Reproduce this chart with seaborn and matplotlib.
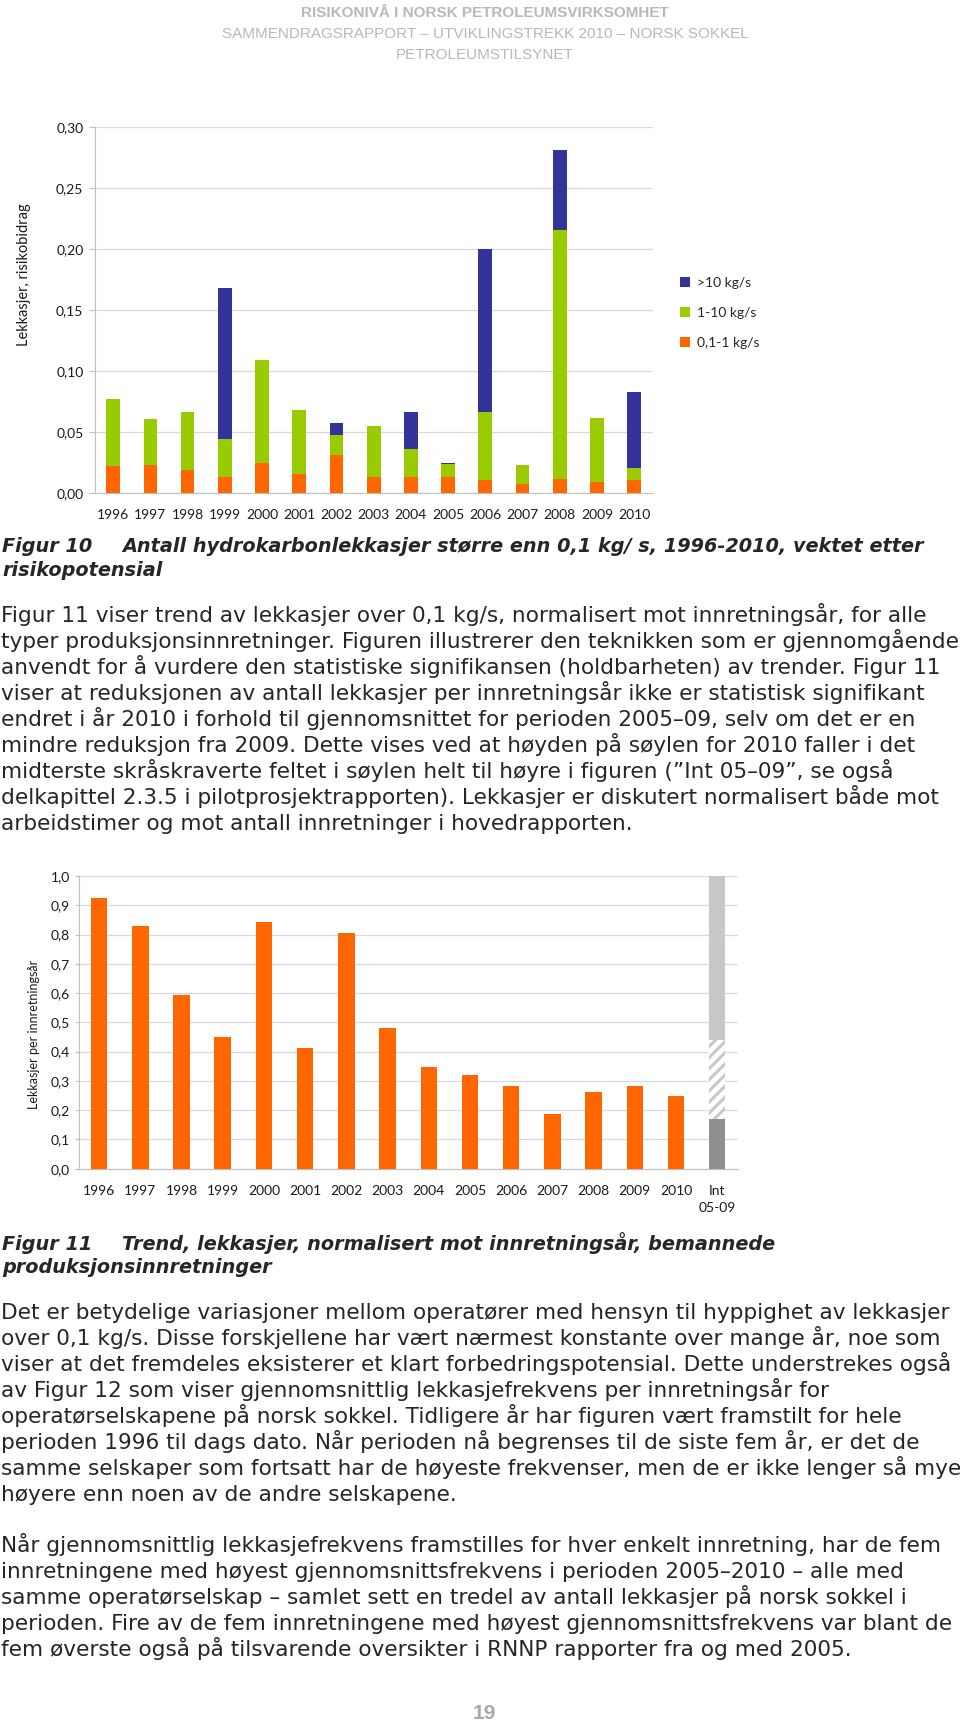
import matplotlib
matplotlib.use("Agg")
import matplotlib.pyplot as plt
import seaborn as sns
import numpy as np
from matplotlib.patches import Patch

# ---------------- data ----------------
years = ["1996", "1997", "1998", "1999", "2000", "2001", "2002", "2003",
         "2004", "2005", "2006", "2007", "2008", "2009", "2010"]
# Figure 10: risk-weighted leaks, stacked components
leak_small = [0.022, 0.023, 0.019, 0.013, 0.024, 0.015, 0.031, 0.013,
              0.013, 0.013, 0.010, 0.007, 0.011, 0.009, 0.010]        # 0,1-1 kg/s
leak_medium = [0.055, 0.037, 0.047, 0.031, 0.0845, 0.053, 0.016, 0.042,
               0.023, 0.0105, 0.056, 0.0154, 0.2043, 0.0525, 0.0105]  # 1-10 kg/s
leak_large = [0.0, 0.0, 0.0, 0.1235, 0.0, 0.0, 0.010, 0.0,
              0.030, 0.001, 0.1337, 0.0, 0.0657, 0.0, 0.0623]          # >10 kg/s
series_labels = [">10 kg/s", "1-10 kg/s", "0,1-1 kg/s"]
y1_ticks = [0.0, 0.05, 0.10, 0.15, 0.20, 0.25, 0.30]
y1_ticklabels = ["0,00", "0,05", "0,10", "0,15", "0,20", "0,25", "0,30"]

# Figure 11: leaks per installation-year
trend_values = [0.926, 0.830, 0.592, 0.450, 0.843, 0.412, 0.805, 0.479,
                0.346, 0.320, 0.284, 0.187, 0.263, 0.284, 0.249]
int_label = "Int\n05-09"
int_lower = 0.169
int_upper = 0.440
int_top = 1.0
y2_ticks = [0.0, 0.1, 0.2, 0.3, 0.4, 0.5, 0.6, 0.7, 0.8, 0.9, 1.0]
y2_ticklabels = ["0,0", "0,1", "0,2", "0,3", "0,4", "0,5", "0,6", "0,7", "0,8", "0,9", "1,0"]

header_lines = ["RISIKONIVÅ I NORSK PETROLEUMSVIRKSOMHET",
                "SAMMENDRAGSRAPPORT – UTVIKLINGSTREKK 2010 – NORSK SOKKEL",
                "PETROLEUMSTILSYNET"]
cap10_num = "Figur 10"
cap10_lines = ["Antall hydrokarbonlekkasjer større enn 0,1 kg/ s, 1996-2010, vektet etter",
               "risikopotensial"]
cap11_num = "Figur 11"
cap11_lines = ["Trend, lekkasjer, normalisert mot innretningsår, bemannede",
               "produksjonsinnretninger"]
para1 = [
    "Figur 11 viser trend av lekkasjer over 0,1 kg/s, normalisert mot innretningsår, for alle",
    "typer produksjonsinnretninger. Figuren illustrerer den teknikken som er gjennomgående",
    "anvendt for å vurdere den statistiske signifikansen (holdbarheten) av trender. Figur 11",
    "viser at reduksjonen av antall lekkasjer per innretningsår ikke er statistisk signifikant",
    "endret i år 2010 i forhold til gjennomsnittet for perioden 2005–09, selv om det er en",
    "mindre reduksjon fra 2009. Dette vises ved at høyden på søylen for 2010 faller i det",
    "midterste skråskraverte feltet i søylen helt til høyre i figuren (”Int 05–09”, se også",
    "delkapittel 2.3.5 i pilotprosjektrapporten). Lekkasjer er diskutert normalisert både mot",
    "arbeidstimer og mot antall innretninger i hovedrapporten.",
]
para2 = [
    "Det er betydelige variasjoner mellom operatører med hensyn til hyppighet av lekkasjer",
    "over 0,1 kg/s. Disse forskjellene har vært nærmest konstante over mange år, noe som",
    "viser at det fremdeles eksisterer et klart forbedringspotensial. Dette understrekes også",
    "av Figur 12 som viser gjennomsnittlig lekkasjefrekvens per innretningsår for",
    "operatørselskapene på norsk sokkel. Tidligere år har figuren vært framstilt for hele",
    "perioden 1996 til dags dato. Når perioden nå begrenses til de siste fem år, er det de",
    "samme selskaper som fortsatt har de høyeste frekvenser, men de er ikke lenger så mye",
    "høyere enn noen av de andre selskapene.",
]
para3 = [
    "Når gjennomsnittlig lekkasjefrekvens framstilles for hver enkelt innretning, har de fem",
    "innretningene med høyest gjennomsnittsfrekvens i perioden 2005–2010 – alle med",
    "samme operatørselskap – samlet sett en tredel av antall lekkasjer på norsk sokkel i",
    "perioden. Fire av de fem innretningene med høyest gjennomsnittsfrekvens var blant de",
    "fem øverste også på tilsvarende oversikter i RNNP rapporter fra og med 2005.",
]
page_number = "19"

# ---------------- style ----------------
sns.set_style("white")
plt.rcParams["font.family"] = ["DejaVu Sans"]
plt.rcParams["hatch.linewidth"] = 2.2
plt.rcParams["hatch.color"] = "#c8c8c8"

BLUE = "#333399"
GREEN = "#99cc00"
ORANGE = "#ff6600"
LIGHT = "#c8c8c8"
DARK = "#8f8f8f"
GRID = "#d9d9d9"
AXIS = "#bfbfbf"
HEAD = "#b8b8b8"
CHART_FONT = ["Lato", "DejaVu Sans"]

W, H = 960, 1726
fig = plt.figure(figsize=(W / 100, H / 100), dpi=100)
fig.patch.set_facecolor("white")


def px(x, y):
    return x / W, 1 - y / H


def style_axes(ax, ncat, yticks, yticklabels, ylim, tick_len, tick_pad, xpad):
    ax.set_xlim(-0.5, ncat - 0.5)
    ax.set_ylim(*ylim)
    ax.set_yticks(yticks)
    ax.set_yticklabels(yticklabels, fontfamily=CHART_FONT, fontsize=10, color="#1a1a1a")
    ax.set_xticks(np.arange(-0.5, ncat, 1.0), minor=True)
    ax.tick_params(axis="x", which="minor", length=5, width=0.8, color=AXIS, direction="out")
    ax.tick_params(axis="x", which="major", length=0, pad=xpad)
    ax.tick_params(axis="y", which="major", length=tick_len, width=0.8, color=AXIS,
                   pad=tick_pad, left=True, direction="out")
    for lbl in ax.get_xticklabels():
        lbl.set_fontfamily(CHART_FONT)
        lbl.set_fontsize(10)
        lbl.set_color("#1a1a1a")
    ax.grid(axis="y", color=GRID, linewidth=0.9)
    ax.grid(axis="x", visible=False)
    ax.set_axisbelow(True)
    for s in ["top", "right"]:
        ax.spines[s].set_visible(False)
    ax.spines["left"].set_color(AXIS)
    ax.spines["bottom"].set_color(AXIS)
    ax.spines["left"].set_linewidth(0.8)
    ax.spines["bottom"].set_linewidth(0.8)
    ax.set_xlabel("")
    ax.set_ylabel("")


# ---------------- Figure 10 chart ----------------
ax1_l, ax1_r, ax1_t, ax1_b = 94.6, 652.7, 126.7, 492.7
ax1 = fig.add_axes([ax1_l / W, 1 - ax1_b / H, (ax1_r - ax1_l) / W, (ax1_b - ax1_t) / H])
small = np.array(leak_small)
medium_top = small + np.array(leak_medium)
large_top = medium_top + np.array(leak_large)
for vals, col in [(large_top, BLUE), (medium_top, GREEN), (small, ORANGE)]:
    sns.barplot(x=years, y=vals, order=years, color=col, saturation=1,
                width=0.37, linewidth=0, errorbar=None, ax=ax1)
style_axes(ax1, len(years), y1_ticks, y1_ticklabels, (0, 0.30), 4, 4, 12)

handles = [Patch(facecolor=c, edgecolor="none") for c in (BLUE, GREEN, ORANGE)]
fig.legend(handles, series_labels, loc="upper left",
           bbox_to_anchor=px(680, 277), bbox_transform=fig.transFigure,
           frameon=False, borderpad=0, borderaxespad=0,
           handlelength=0.75, handleheight=0.75, handletextpad=0.5,
           labelspacing=1.3, prop={"family": CHART_FONT, "size": 10})

fig.text(*px(24.5, 275), "Lekkasjer, risikobidrag", rotation=90, ha="center", va="center",
         fontfamily=CHART_FONT, fontsize=10.5, color="#1a1a1a")

# ---------------- Figure 11 chart ----------------
cats2 = years + [int_label]
ax2_l, ax2_r, ax2_t, ax2_b = 78.5, 737.8, 876.0, 1168.7
ax2 = fig.add_axes([ax2_l / W, 1 - ax2_b / H, (ax2_r - ax2_l) / W, (ax2_b - ax2_t) / H])
sns.barplot(x=years, y=trend_values, order=cats2, color=ORANGE, saturation=1,
            width=0.40, linewidth=0, errorbar=None, ax=ax2)
sns.barplot(x=[int_label], y=[int_top], order=cats2, color=LIGHT, saturation=1,
            width=0.40, linewidth=0, errorbar=None, ax=ax2)
n_before = len(ax2.patches)
sns.barplot(x=[int_label], y=[int_upper], order=cats2, color="white", saturation=1,
            width=0.40, linewidth=0, errorbar=None, ax=ax2)
for p in ax2.patches[n_before:]:
    p.set_hatch("///")
    p.set_edgecolor(LIGHT)
    p.set_linewidth(0)
sns.barplot(x=[int_label], y=[int_lower], order=cats2, color=DARK, saturation=1,
            width=0.40, linewidth=0, errorbar=None, ax=ax2)
style_axes(ax2, len(cats2), y2_ticks, y2_ticklabels, (0, 1.0), 3, 3, 12)
for lbl in ax2.get_xticklabels():
    lbl.set_linespacing(1.45)
    lbl.set_va("top")

fig.text(*px(34, 1034), "Lekkasjer per innretningsår", rotation=90, ha="center", va="center",
         fontfamily=CHART_FONT, fontsize=9, color="#1a1a1a")

# ---------------- page text ----------------
renderer = fig.canvas.get_renderer()


def fit_size(text, target, **kw):
    t = fig.text(0, 0, text, fontsize=12, **kw)
    w = t.get_window_extent(renderer=renderer).width
    t.remove()
    return 12 * target / w


body_kw = dict(fontfamily="DejaVu Sans")
cap_kw = dict(fontfamily="DejaVu Sans", fontweight="bold", fontstyle="italic")
body_size = fit_size(para1[1], 952, **body_kw)
cap_size = fit_size(cap10_lines[0], 799, **cap_kw)
BL = 7  # centre-to-baseline offset (px)

# header
fig.text(*px(485, 12 + 5), header_lines[0], ha="center", va="baseline", fontsize=11,
         fontweight="bold", color=HEAD, fontfamily="Liberation Sans")
fig.text(*px(485, 33 + 5), header_lines[1], ha="center", va="baseline", fontsize=11,
         color=HEAD, fontfamily="Liberation Sans")
fig.text(*px(485, 54 + 5), header_lines[2], ha="center", va="baseline", fontsize=11,
         color=HEAD, fontfamily="Liberation Sans")

# caption figur 10
fig.text(*px(2, 545 + BL), cap10_num, ha="left", va="baseline", fontsize=cap_size, **cap_kw)
fig.text(*px(122, 545 + BL), cap10_lines[0], ha="left", va="baseline", fontsize=cap_size, **cap_kw)
fig.text(*px(2, 569 + BL), cap10_lines[1], ha="left", va="baseline", fontsize=cap_size, **cap_kw)

for i, line in enumerate(para1):
    fig.text(*px(1, 615 + 26 * i + BL), line, ha="left", va="baseline",
             fontsize=body_size, **body_kw)

# caption figur 11
fig.text(*px(2, 1243 + BL), cap11_num, ha="left", va="baseline", fontsize=cap_size, **cap_kw)
fig.text(*px(122, 1243 + BL), cap11_lines[0], ha="left", va="baseline", fontsize=cap_size, **cap_kw)
fig.text(*px(2, 1266 + BL), cap11_lines[1], ha="left", va="baseline", fontsize=cap_size, **cap_kw)

for i, line in enumerate(para2):
    fig.text(*px(1, 1312 + 26 * i + BL), line, ha="left", va="baseline",
             fontsize=body_size, **body_kw)
for i, line in enumerate(para3):
    fig.text(*px(1, 1545 + 26 * i + BL), line, ha="left", va="baseline",
             fontsize=body_size, **body_kw)

fig.text(*px(484, 1713), page_number, ha="center", va="center", fontsize=15,
         fontweight="bold", color="#a8a8a8", fontfamily="Liberation Sans")

fig.savefig("out.png", dpi=100, facecolor="white")
